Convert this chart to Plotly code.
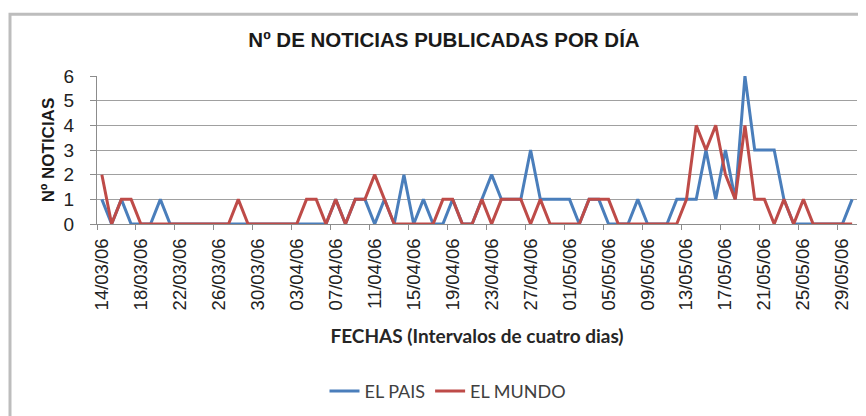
import plotly.graph_objects as go
import pandas as pd

# ---- data ----
dates = pd.date_range("2006-03-14", "2006-05-30", freq="D")

el_pais = [1, 0, 1, 0, 0, 0, 1, 0, 0, 0,
           0, 0, 0, 0, 0, 0, 0, 0, 0, 0,
           0, 0, 0, 0, 1, 0, 1, 1, 0, 1,
           0, 2, 0, 1, 0, 0, 1, 0, 0, 1,
           2, 1, 1, 1, 3, 1, 1, 1, 1, 0,
           1, 1, 0, 0, 0, 1, 0, 0, 0, 1,
           1, 1, 3, 1, 3, 1, 6, 3, 3, 3,
           1, 0, 0, 0, 0, 0, 0, 1]

el_mundo = [2, 0, 1, 1, 0, 0, 0, 0, 0, 0,
            0, 0, 0, 0, 1, 0, 0, 0, 0, 0,
            0, 1, 1, 0, 1, 0, 1, 1, 2, 1,
            0, 0, 0, 0, 0, 1, 1, 0, 0, 1,
            0, 1, 1, 1, 0, 1, 0, 0, 0, 0,
            1, 1, 1, 0, 0, 0, 0, 0, 0, 0,
            1, 4, 3, 4, 2, 1, 4, 1, 1, 0,
            1, 0, 1, 0, 0, 0, 0, 0]

tick_labels = ["14/03/06", "18/03/06", "22/03/06", "26/03/06", "30/03/06",
               "03/04/06", "07/04/06", "11/04/06", "15/04/06", "19/04/06",
               "23/04/06", "27/04/06", "01/05/06", "05/05/06", "09/05/06",
               "13/05/06", "17/05/06", "21/05/06", "25/05/06", "29/05/06"]

y_ticks = [0, 1, 2, 3, 4, 5, 6]

# ---- figure ----
fig = go.Figure()
fig.add_trace(go.Scatter(x=dates, y=el_pais, mode="lines", name="EL PAIS",
                         line=dict(color="#4a7ebb", width=3)))
fig.add_trace(go.Scatter(x=dates, y=el_mundo, mode="lines", name="EL MUNDO",
                         line=dict(color="#be4b48", width=3)))

half_day = pd.Timedelta(hours=12)

# page body has an 8px margin, so the figure is laid out 8px smaller / shifted
OFF = 8
W, H = 866 - OFF, 416 - OFF
L, R, T, B = 97 - OFF, 9, 76 - OFF, 416 - 224.3
pw = W - L - R
ph = H - T - B


def px_x(p):
    return (p - OFF - L) / pw


def px_y(p):
    return (H - B - (p - OFF)) / ph


fig.update_layout(
    width=W, height=H,
    margin=dict(l=L, r=R, t=T, b=B, pad=0, autoexpand=False),
    paper_bgcolor="white", plot_bgcolor="white",
    title=dict(text="<b>Nº DE NOTICIAS PUBLICADAS POR DÍA</b>",
               x=(444 - OFF) / W, xanchor="center", y=1 - (40 - OFF) / H, yanchor="middle",
               font=dict(family="Liberation Sans, Arial", size=20.5, color="#1a1a1a")),
    showlegend=True,
    legend=dict(orientation="h", x=px_x(448), xanchor="center",
                y=px_y(392), yanchor="middle",
                font=dict(family="Lato, Carlito, Calibri", size=18, color="#404040"),
                bgcolor="rgba(0,0,0,0)"),
    xaxis=dict(
        type="date", automargin=False,
        range=[dates[0] - half_day, dates[-1] + half_day],
        tickmode="array", tickvals=list(dates[::4]), ticktext=tick_labels,
        tickangle=-90, ticks="", ticklabelstandoff=6,
        tickfont=dict(family="Liberation Sans, Arial", size=18.5, color="#222222"),
        showgrid=False, showline=True, linecolor="#8c8c8c", linewidth=1,
        zeroline=False,
        minor=dict(tick0=dates[0] - half_day, dtick=4 * 86400000,
                   ticks="outside", ticklen=5, tickcolor="#8c8c8c", showgrid=False),
        title=dict(text="<b>FECHAS (Intervalos de cuatro dias)</b>", standoff=20,
                   font=dict(family="Lato, Carlito, Calibri", size=19, color="#262626")),
    ),
    yaxis=dict(
        range=[0, 6], tickmode="array", tickvals=y_ticks, automargin=False,
        ticks="outside", ticklen=6, tickcolor="#8c8c8c", ticklabelstandoff=12,
        tickfont=dict(family="Liberation Sans, Arial", size=19, color="#222222"),
        showgrid=True, gridcolor="#a0a0a0", gridwidth=1,
        showline=True, linecolor="#8c8c8c", linewidth=1, zeroline=False,
        title=dict(text="<b>Nº NOTICIAS</b>", standoff=4,
                   font=dict(family="Liberation Sans, Arial", size=17, color="#1a1a1a")),
    ),
)

# outer chart-area border (partly cropped in the reference)
fig.add_shape(type="rect", xref="paper", yref="paper",
              x0=px_x(10), x1=px_x(900), y0=px_y(14), y1=px_y(460),
              line=dict(color="#bdbdbd", width=3), fillcolor="rgba(0,0,0,0)",
              layer="below")

fig.write_html("out.html")
